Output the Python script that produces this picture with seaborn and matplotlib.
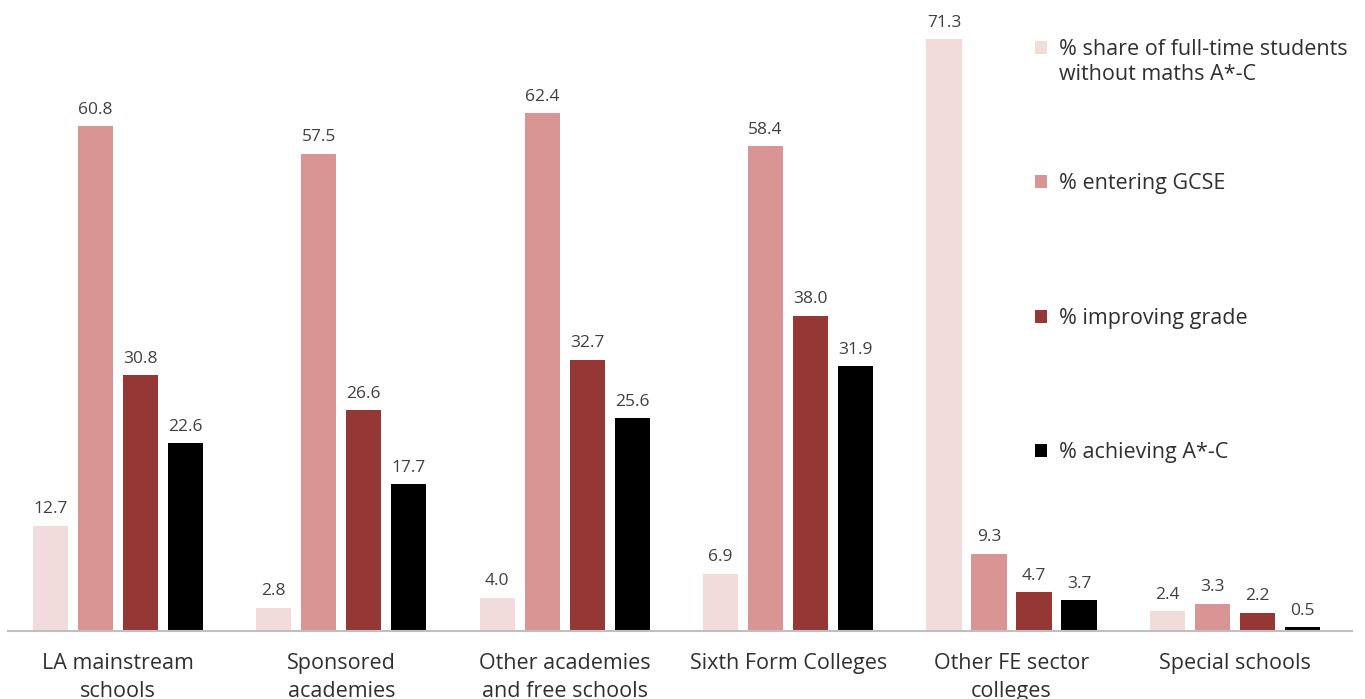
import matplotlib
matplotlib.use("Agg")
import matplotlib.pyplot as plt
import seaborn as sns
import pandas as pd

# Categories (institution types) and the four measures per category
categories = [
    "LA mainstream\nschools",
    "Sponsored\nacademies",
    "Other academies\nand free schools",
    "Sixth Form Colleges",
    "Other FE sector\ncolleges",
    "Special schools",
]
series_names = [
    "% share of full-time students",
    "% entering GCSE",
    "% improving grade",
    "% achieving A*-C",
]
first_series_line2 = "without maths A*-C"
share_without_maths = [12.7, 2.8, 4.0, 6.9, 71.3, 2.4]
entering_gcse = [60.8, 57.5, 62.4, 58.4, 9.3, 3.3]
improving_grade = [30.8, 26.6, 32.7, 38.0, 4.7, 2.2]
achieving_ac = [22.6, 17.7, 25.6, 31.9, 3.7, 0.5]

colors = ["#F2DCDB", "#D99594", "#953735", "#000000"]
text_color = "#303030"

rows = []
for name, vals in zip(series_names,
                      [share_without_maths, entering_gcse, improving_grade, achieving_ac]):
    for cat, v in zip(categories, vals):
        rows.append({"category": cat, "series": name, "value": v})
df = pd.DataFrame(rows)

sns.set_theme(style="white")
plt.rcParams["font.family"] = ["Open Sans", "DejaVu Sans"]

W, H = 1365, 699
fig = plt.figure(figsize=(W / 100, H / 100), dpi=100)
ax = fig.add_axes([8 / W, 1 - 631 / H, 1344 / W, 631 / H])

sns.barplot(
    data=df, x="category", y="value", hue="series",
    order=categories, hue_order=series_names,
    palette=colors, width=0.806, gap=0.22, saturation=1,
    edgecolor="none", linewidth=0, ax=ax,
)

for cont in ax.containers:
    ax.bar_label(cont, fmt="%.1f", padding=6, fontsize=12.5, color="#404040")

ax.set_xlim(-0.492, 5.524)
ax.set_ylim(0, 76)
ax.set_xlabel("")
ax.set_ylabel("")
ax.set_yticks([])
for s in ["top", "right", "left"]:
    ax.spines[s].set_visible(False)
ax.spines["bottom"].set_color("#BFBFBF")
ax.spines["bottom"].set_linewidth(1.5)
ax.tick_params(axis="x", length=0, pad=16, labelsize=15.5, labelcolor=text_color)
for lbl in ax.get_xticklabels():
    lbl.set_linespacing(1.4)

handles, labels = ax.get_legend_handles_labels()
leg = ax.legend(
    handles, labels, loc="upper left", bbox_to_anchor=(1035 / W, 1 - 39 / H),
    bbox_transform=fig.transFigure, frameon=False, fontsize=15.5,
    handlelength=0.55, handleheight=0.55, handletextpad=0.55,
    labelspacing=5.27, borderpad=0, borderaxespad=0, labelcolor=text_color,
)

# Second line of the first legend entry, aligned under its first line
fig.canvas.draw()
bb = leg.get_texts()[0].get_window_extent()
fig.text(bb.x0 / W, (bb.y0 - 25) / H + (bb.height / 2) / H, first_series_line2,
         fontsize=15.5, color=text_color, ha="left", va="center")

fig.savefig("out.png", dpi=100)
